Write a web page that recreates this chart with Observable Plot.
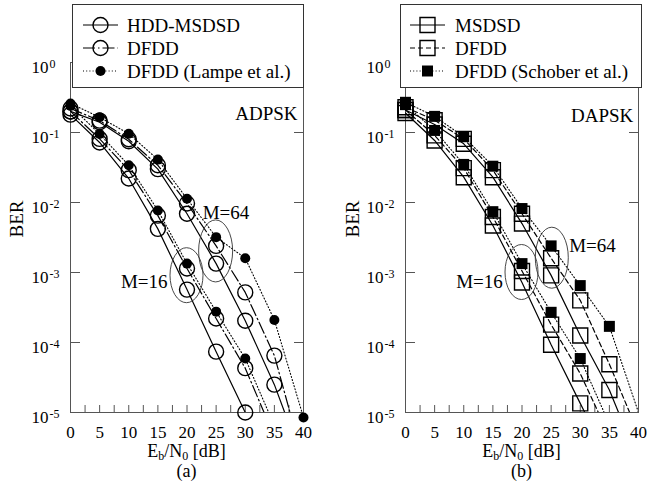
<!DOCTYPE html>
<html><head><meta charset="utf-8">
<script src="https://cdn.jsdelivr.net/npm/d3@7"></script>
<script src="https://cdn.jsdelivr.net/npm/@observablehq/plot@0.6"></script>
<style>
body{margin:0;background:#fff;}
#wrap{position:relative;width:648px;height:492px;overflow:hidden;}
#wrap svg{position:absolute;top:0;}
#wrap svg text{font-family:"Liberation Serif","Times New Roman",Times,serif;}
</style></head><body><div id="wrap"></div>
<script>
// ---------- shared axes ----------
const ebn0 = [0,5,10,15,20,25,30,35,40];
const decades = [1,1e-1,1e-2,1e-3,1e-4,1e-5];
const decadeExp = ["0","-1","-2","-3","-4","-5"];
const xMinorTicks = [0,2.5,5,7.5,10,12.5,15,17.5,20,22.5,25,27.5,30,32.5,35,37.5,40];
const xTickLabels = [0,5,10,15,20,25,30,35,40];

// ---------- panel (a): ADPSK ----------
const adpskNames = ["HDD-MSDSD","DFDD","DFDD (Lampe et al.)"];
const adpsk16Hdd   = [0.18,0.072,0.022,0.0042,5.7e-4,7.4e-5,1.0e-5,null,null];
const adpsk16Dfdd  = [0.20,0.081,0.029,0.0065,1.14e-3,2.2e-4,4.3e-5,4.5e-6,null];
const adpsk16Lampe = [0.24,0.095,0.034,0.0077,1.34e-3,2.76e-4,5.9e-5,6.5e-6,null];
const adpsk64Hdd   = [0.20,0.14,0.075,0.030,6.9e-3,1.34e-3,2.05e-4,2.5e-5,1.9e-6];
const adpsk64Dfdd  = [0.22,0.148,0.080,0.034,9.7e-3,2.4e-3,5.2e-4,6.5e-5,2.0e-6];
const adpsk64Lampe = [0.26,0.165,0.096,0.041,0.0113,3.2e-3,1.6e-3,2.1e-4,8.5e-6];
const adpskLastMarker16 = [30,30,30];
const adpskLastMarker64 = [35,35,40];
const adpskAnnot = [
  {text:"ADPSK", x:38.97, ber:0.15, anchor:"end"},
  {text:"M=64", x:22.7, ber:5.9e-3, anchor:"start"},
  {text:"M=16", x:16.65, ber:6.0e-4, anchor:"end"}
];
const adpskEllipses = [{x:20, ber:9.0e-4}, {x:25, ber:2.0e-3}];

// ---------- panel (b): DAPSK ----------
const dapskNames = ["MSDSD","DFDD","DFDD (Schober et al.)"];
const dapsk16Msdsd   = [0.19,0.077,0.023,0.0047,7.2e-4,9.3e-5,1.35e-5,2.0e-6,null];
const dapsk16Dfdd    = [0.21,0.091,0.031,0.0062,1.05e-3,1.8e-4,3.6e-5,4.6e-6,null];
const dapsk16Schober = [0.25,0.107,0.035,0.0074,1.34e-3,2.7e-4,5.9e-5,6.8e-6,null];
const dapsk64Msdsd   = [0.21,0.13,0.069,0.023,5.0e-3,9.1e-4,1.26e-4,2.1e-5,2.0e-6];
const dapsk64Dfdd    = [0.23,0.15,0.081,0.029,6.9e-3,1.6e-3,4.0e-4,4.9e-5,5.0e-6];
const dapsk64Schober = [0.27,0.17,0.087,0.033,8.2e-3,2.4e-3,6.5e-4,1.7e-4,1.0e-5];
const dapskLastMarker16 = [30,30,30];
const dapskLastMarker64 = [35,35,35];
const dapskAnnot = [
  {text:"DAPSK", x:39.1, ber:0.14, anchor:"end"},
  {text:"M=64", x:28.1, ber:1.95e-3, anchor:"start"},
  {text:"M=16", x:16.7, ber:6.0e-4, anchor:"end"}
];
const dapskEllipses = [{x:20, ber:1.0e-3}, {x:25.2, ber:1.6e-3}];

// ---------- styles ----------
const FONT = '"Liberation Serif","Times New Roman",Times,serif';
const AXIS = "#555";

function rowsOf(arr, last) {
  return ebn0.map((x, i) => ({x, ber: arr[i], mark: x <= last})).filter(d => d.ber != null);
}

function makePanel(cfg) {
  const {names, s16, s64, last16, last64, dashes, symbol, rOpen, rFilled,
         mLeft, mRight, annot, ellipses, ellR, letter, berDx, legend, left} = cfg;
  const marks = [
    Plot.frame({stroke: AXIS, strokeWidth: 1}),
    Plot.axisX({ticks: xMinorTicks, tickSize: -7, tickFormat: () => "", label: null, stroke: AXIS}),
    Plot.axisX({ticks: xTickLabels, tickSize: 0, tickPadding: 13, fontSize: 17, label: null}),
    Plot.axisY({ticks: decades, anchor: "left", tickSize: -10, tickFormat: () => "", label: null, stroke: AXIS}),
    Plot.axisY({ticks: decades, anchor: "right", tickSize: -10, tickFormat: () => "", label: null, stroke: AXIS}),
    Plot.text(decades, {y: d => d, frameAnchor: "left", text: () => "10", textAnchor: "end",
      lineAnchor: "bottom", dx: -22, dy: 10, fontSize: 17}),
    Plot.text(decades, {y: d => d, frameAnchor: "left", text: (d, i) => decadeExp[i], textAnchor: "start",
      lineAnchor: "bottom", dx: -21, dy: 5, fontSize: 12}),
    Plot.text(["BER"], {frameAnchor: "left", text: d => d, rotate: -90, dx: berDx, fontSize: 19})
  ];
  const groups = [[s16, last16], [s64, last64]];
  for (const [series, lasts] of groups) {
    series.forEach((arr, k) => {
      const rows = rowsOf(arr, lasts[k]);
      marks.push(Plot.line(rows, {x: "x", y: "ber", stroke: "black", strokeWidth: k === 2 ? 1.1 : 1.2,
        strokeDasharray: dashes[k], clip: true}));
    });
  }
  for (const [series, lasts] of groups) {
    series.forEach((arr, k) => {
      const rows = rowsOf(arr, lasts[k]).filter(d => d.mark);
      if (k === 2) {
        marks.push(Plot.dot(rows, {x: "x", y: "ber", symbol, r: rFilled, fill: "black", stroke: "none"}));
      } else {
        marks.push(Plot.dot(rows, {x: "x", y: "ber", symbol, r: rOpen, fill: "none", stroke: "black", strokeWidth: 1.4}));
      }
    });
  }
  marks.push(Plot.text(annot.filter(d => d.anchor === "end"), {x: "x", y: "ber", text: "text", textAnchor: "end", lineAnchor: "bottom", fontSize: 19}));
  marks.push(Plot.text(annot.filter(d => d.anchor === "start"), {x: "x", y: "ber", text: "text", textAnchor: "start", lineAnchor: "bottom", fontSize: 19}));

  const svg = Plot.plot({
    width: 324, height: 492,
    marginLeft: mLeft, marginRight: mRight, marginTop: 62, marginBottom: 80,
    style: {fontFamily: FONT, color: "black", background: "transparent"},
    x: {domain: [0, 40]},
    y: {type: "log", domain: [1e-5, 1]},
    marks
  });
  const sx = svg.scale("x"), sy = svg.scale("y");
  const g = d3.select(svg).append("g").attr("text-anchor", "start");
  ellipses.forEach((e, i) => {
    g.append("ellipse").attr("cx", sx.apply(e.x)).attr("cy", sy.apply(e.ber))
      .attr("rx", ellR[i][0]).attr("ry", ellR[i][1])
      .attr("fill", "none").attr("stroke", "#333").attr("stroke-width", 0.9);
  });
  const cx = sx.apply(20);
  const t = g.append("text").attr("x", cx).attr("y", 457).attr("text-anchor", "middle")
    .attr("font-size", 18);
  t.append("tspan").text("E");
  t.append("tspan").attr("font-size", 12).attr("dy", 3).text("b");
  t.append("tspan").attr("dy", -3).text("/N");
  t.append("tspan").attr("font-size", 12).attr("dy", 3).text("0");
  t.append("tspan").attr("dy", -3).text(" [dB]");
  g.append("text").attr("x", cx).attr("y", 477).attr("text-anchor", "middle")
    .attr("font-size", 18).text(letter);
  const L = legend;
  const lg = g.append("g");
  lg.append("rect").attr("x", L.x).attr("y", 4.5).attr("width", L.w).attr("height", 83)
    .attr("fill", "white").attr("stroke", "#333").attr("stroke-width", 1);
  names.forEach((name, k) => {
    const y = 25 + 23 * k;
    lg.append("line").attr("x1", L.lx1).attr("x2", L.lx2).attr("y1", y).attr("y2", y)
      .attr("stroke", "black").attr("stroke-width", k === 2 ? 1.1 : 1.2).attr("stroke-dasharray", dashes[k]);
    const mx = (L.lx1 + L.lx2) / 2;
    const r = k === 2 ? rFilled : rOpen;
    const sym = symbol === "square" ? d3.symbolSquare : d3.symbolCircle;
    lg.append("path").attr("transform", `translate(${mx},${y})`)
      .attr("d", d3.symbol(sym, r * r * Math.PI)())
      .attr("fill", k === 2 ? "black" : "none").attr("stroke", k === 2 ? "none" : "black").attr("stroke-width", 1.4);
    lg.append("text").attr("x", L.tx).attr("y", y + 6.5).attr("text-anchor", "start")
      .attr("font-size", 19).text(name);
  });
  svg.style.left = left + "px";
  return svg;
}

const wrap = document.getElementById("wrap");
wrap.appendChild(makePanel({
  names: adpskNames,
  s16: [adpsk16Hdd, adpsk16Dfdd, adpsk16Lampe],
  s64: [adpsk64Hdd, adpsk64Dfdd, adpsk64Lampe],
  last16: adpskLastMarker16, last64: adpskLastMarker64,
  dashes: [null, "12,3,1.5,3", "1,2.2"],
  symbol: "circle", rOpen: 7.5, rFilled: 5,
  mLeft: 70, mRight: 21,
  annot: adpskAnnot, ellipses: adpskEllipses, ellR: [[16.5, 27.5], [17, 31]],
  letter: "(a)", berDx: -54,
  legend: {x: 72.5, w: 231, lx1: 83, lx2: 118, tx: 127},
  left: 0
}));
wrap.appendChild(makePanel({
  names: dapskNames,
  s16: [dapsk16Msdsd, dapsk16Dfdd, dapsk16Schober],
  s64: [dapsk64Msdsd, dapsk64Dfdd, dapsk64Schober],
  last16: dapskLastMarker16, last64: dapskLastMarker64,
  dashes: [null, "5,3", "1,2.2"],
  symbol: "square", rOpen: 8.46, rFilled: 6.2,
  mLeft: 81, mRight: 10,
  annot: dapskAnnot, ellipses: dapskEllipses, ellR: [[16.5, 27.5], [16.5, 30.5]],
  letter: "(b)", berDx: -53,
  legend: {x: 76.5, w: 241, lx1: 86, lx2: 121, tx: 131},
  left: 324
}));
</script>
</body></html>
